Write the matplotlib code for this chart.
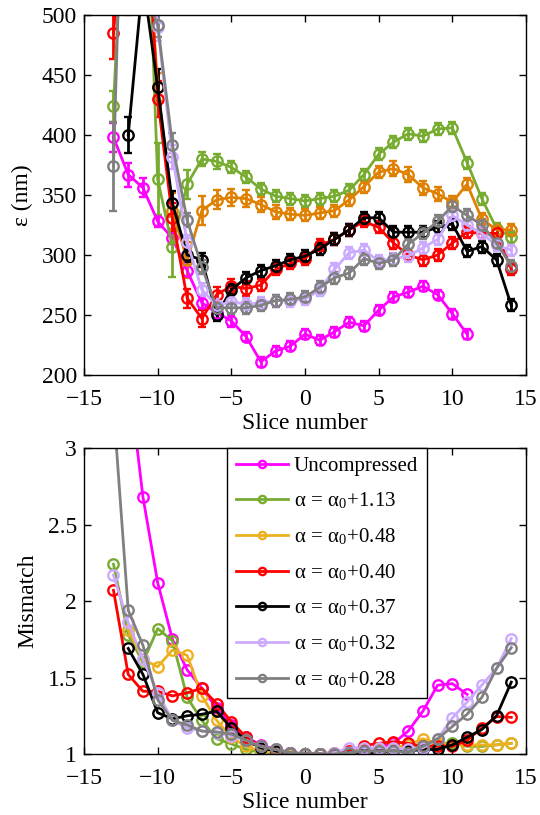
import matplotlib
matplotlib.use('Agg')
import matplotlib.pyplot as plt
import numpy as np

plt.rcParams['font.family'] = ['Liberation Serif', 'DejaVu Serif']
plt.rcParams['mathtext.fontset'] = 'stix'

nan = np.nan
slices = np.arange(-13, 15)

labels = ['Uncompressed',
          r'α = α$_\mathregular{0}$+1.13',
          r'α = α$_\mathregular{0}$+0.48',
          r'α = α$_\mathregular{0}$+0.40',
          r'α = α$_\mathregular{0}$+0.37',
          r'α = α$_\mathregular{0}$+0.32',
          r'α = α$_\mathregular{0}$+0.28']
colors_top = ['#FF00FF', '#77AC30', '#E08000', '#FF0000', '#000000', '#CCAAFF', '#808080']
colors_bot = ['#FF00FF', '#77AC30', '#EDB120', '#FF0000', '#000000', '#CCAAFF', '#808080']

# epsilon (nm), slices -13 .. 14
eps_uncomp = [398, 367, 356, 328, 314, 287, 260, 252, 245, 232, 211, 220, 224, 234,
              229, 236, 244, 241, 254, 265, 269, 274, 267, 251, 234, nan, nan, nan]
eps_113 = [424, 680, 700, 363, 307, 359, 380, 378, 373, 365, 355, 349, 347, 345,
           347, 349, 354, 367, 384, 394, 401, 399, 405, 406, 377, 347, 322, 315]
eps_048 = [nan, 510, 620, 440, 337, 296, 337, 346, 348, 347, 342, 336, 334, 333,
           335, 337, 346, 357, 369, 372, 367, 356, 351, 344, 359, 330, 321, 321]
eps_040 = [485, 620, 640, 430, 331, 264, 247, 267, 274, 272, 275, 288, 293, 297,
           308, 313, 321, 328, 323, 310, 300, 296, 300, 310, 319, 318, 318, 288]
eps_037 = [nan, 400, 530, 440, 343, 300, 296, 250, 271, 281, 287, 291, 296, 299,
           305, 313, 321, 331, 331, 319, 319, 319, 323, 326, 303, 307, 296, 258]
eps_032 = [600, 650, 600, 490, 382, 311, 271, 258, 261, 259, 260, 262, 262, 263,
           271, 288, 302, 304, 295, 297, 299, 306, 313, 333, 325, 318, 308, 304]
eps_028 = [374, 790, 520, 492, 392, 329, 290, 256, 256, 256, 258, 262, 263, 265,
           273, 281, 285, 297, 293, 296, 309, 318, 328, 341, 333, 325, 310, 291]

err_uncomp = [12, 10, 8, 5, 5, 5, 5, 5, 5, 4, 4, 4, 4, 4,
              4, 4, 4, 4, 4, 4, 4, 4, 4, 4, 4, nan, nan, nan]
err_113 = [13, 20, 20, 30, 25, 12, 6, 6, 5, 5, 5, 5, 5, 5,
           5, 5, 5, 5, 5, 5, 5, 5, 5, 5, 5, 5, 5, 5]
err_048 = [nan, 10, 15, 12, 15, 15, 12, 8, 7, 7, 6, 6, 5, 5,
           5, 5, 5, 5, 5, 6, 6, 6, 6, 5, 5, 5, 5, 5]
err_040 = [22, 15, 15, 15, 12, 8, 7, 6, 6, 6, 5, 5, 5, 5,
           5, 5, 5, 5, 5, 5, 5, 5, 5, 5, 5, 5, 5, 5]
err_037 = [nan, 15, 15, 15, 10, 6, 6, 5, 5, 5, 5, 5, 5, 5,
           5, 5, 5, 5, 5, 5, 5, 5, 5, 5, 5, 5, 5, 5]
err_032 = [20, 15, 15, 12, 10, 6, 6, 5, 5, 5, 5, 5, 5, 5,
           5, 5, 5, 5, 5, 5, 5, 5, 5, 5, 5, 5, 5, 5]
err_028 = [37, 15, 15, 10, 10, 6, 6, 5, 5, 5, 5, 5, 5, 5,
           5, 5, 5, 5, 5, 5, 5, 5, 5, 5, 5, 5, 5, 5]

# mismatch, slices -13 .. 14
mm_uncomp = [4.5, 3.49, 2.68, 2.12, 1.75, 1.55, 1.43, 1.30, 1.19, 1.11, 1.06, 1.03, 1.01, 1.0,
             1.0, 1.0, 1.01, 1.02, 1.04, 1.07, 1.15, 1.28, 1.45, 1.46, 1.39, nan, nan, nan]
mm_113 = [2.24, 1.78, 1.60, 1.82, 1.74, 1.37, 1.22, 1.10, 1.066, 1.03, 1.01, 1.0, 1.0, 1.0,
          1.0, 1.0, 1.01, 1.02, 1.02, 1.03, 1.04, 1.06, 1.07, 1.07, 1.05, 1.05, 1.06, 1.07]
mm_048 = [nan, 1.81, 1.62, 1.57, 1.68, 1.645, 1.38, 1.22, 1.11, 1.05, 1.02, 1.01, 1.0, 1.0,
          1.0, 1.0, 1.01, 1.02, 1.03, 1.04, 1.06, 1.10, 1.07, 1.06, 1.06, 1.06, 1.06, 1.07]
mm_040 = [2.07, 1.52, 1.41, 1.41, 1.38, 1.40, 1.43, 1.33, 1.21, 1.11, 1.05, 1.02, 1.01, 1.0,
          1.0, 1.01, 1.02, 1.055, 1.07, 1.08, 1.07, 1.05, 1.05, 1.05, 1.09, 1.17, 1.245, 1.24]
mm_037 = [nan, 1.69, 1.52, 1.27, 1.23, 1.25, 1.26, 1.28, 1.17, 1.09, 1.04, 1.02, 1.01, 1.0,
          1.0, 1.0, 1.01, 1.01, 1.01, 1.02, 1.02, 1.03, 1.03, 1.06, 1.11, 1.16, 1.25, 1.47]
mm_032 = [2.17, 1.86, 1.62, 1.40, 1.22, 1.17, 1.15, 1.14, 1.12, 1.09, 1.05, 1.03, 1.01, 1.0,
          1.0, 1.01, 1.04, 1.04, 1.04, 1.04, 1.03, 1.04, 1.10, 1.235, 1.34, 1.45, 1.56, 1.755]
mm_028 = [3.27, 1.94, 1.71, 1.355, 1.22, 1.19, 1.15, 1.145, 1.13, 1.09, 1.05, 1.03, 1.01, 1.0,
          1.0, 1.0, 1.01, 1.02, 1.02, 1.02, 1.01, 1.05, 1.10, 1.18, 1.26, 1.37, 1.56, 1.695]

eps_all = [eps_uncomp, eps_113, eps_048, eps_040, eps_037, eps_032, eps_028]
err_all = [err_uncomp, err_113, err_048, err_040, err_037, err_032, err_028]
mm_all = [mm_uncomp, mm_113, mm_048, mm_040, mm_037, mm_032, mm_028]

fig = plt.figure(figsize=(5.4, 8.15), dpi=100)
ax1 = fig.add_axes([0.1556, 0.5399, 0.8185, 0.4417])
ax2 = fig.add_axes([0.1556, 0.0748, 0.8185, 0.3755])

for y, e, c in zip(eps_all, err_all, colors_top):
    ax1.errorbar(slices, y, yerr=e, color=c, marker='o', markersize=7.5,
                 mfc='none', mew=1.7, lw=2, elinewidth=2, capsize=3, capthick=2)

for y, c, lab in zip(mm_all, colors_bot, labels):
    ax2.plot(slices, y, color=c, marker='o', markersize=7.5, mfc='none',
             mew=1.7, lw=2, label=lab)

ax1.set_xlim(-15, 15)
ax1.set_ylim(200, 500)
ax1.set_xticks(np.arange(-15, 16, 5))
ax1.set_yticks(np.arange(200, 501, 50))
ax1.set_xlabel('Slice number', fontsize=17, labelpad=2)
ax1.set_ylabel('ε (nm)', fontsize=17, labelpad=6)

ax2.set_xlim(-15, 15)
ax2.set_ylim(1, 3)
ax2.set_xticks(np.arange(-15, 16, 5))
ax2.set_yticks([1, 1.5, 2, 2.5, 3])
ax2.set_yticklabels(['1', '1.5', '2', '2.5', '3'])
ax2.set_xlabel('Slice number', fontsize=17, labelpad=2)
ax2.set_ylabel('Mismatch', fontsize=17, labelpad=7)

for ax in (ax1, ax2):
    ax.tick_params(direction='in', top=True, right=True, length=5, width=1,
                   labelsize=17)
    ax.tick_params(axis='x', pad=10)
    ax.tick_params(axis='y', pad=5)
    for s in ax.spines.values():
        s.set_linewidth(1)

leg = ax2.legend(loc='upper left', bbox_to_anchor=(0.324, 1.0), borderaxespad=0,
                 fontsize=15, fancybox=False, edgecolor='black', framealpha=1,
                 handlelength=2.5, handletextpad=0.3, labelspacing=0.72,
                 borderpad=0.4, markerscale=0.7)
leg.get_frame().set_linewidth(1)

fig.savefig('out.png', dpi=100)
